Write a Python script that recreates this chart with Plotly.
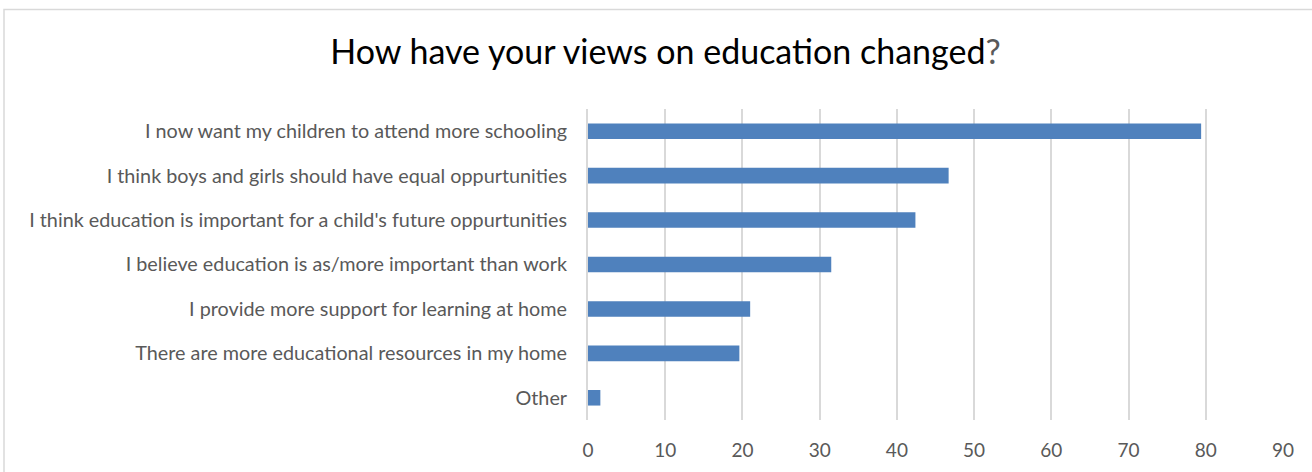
import plotly.graph_objects as go

# Survey responses (percent of respondents), listed top to bottom
categories = [
    "I now want my children to attend more schooling",
    "I think boys and girls should have equal oppurtunities",
    "I think education is important for a child's future oppurtunities",
    "I believe education is as/more important than work",
    "I provide more support for learning at home",
    "There are more educational resources in my home",
    "Other",
]
values = [79.4, 46.7, 42.4, 31.5, 21.0, 19.6, 1.6]
x_ticks = [0, 10, 20, 30, 40, 50, 60, 70, 80, 90]

W, H = 1312, 472
ML, MR, MT, MB = 588, 29, 109, 52
FONT = "Lato"
GRID = "#D9D9D9"
TEXT = "#595959"

fig = go.Figure(
    go.Bar(
        x=values,
        y=categories,
        orientation="h",
        marker=dict(color="#4F81BD", line=dict(width=0)),
        hoverinfo="x+y",
    )
)

# chart-area frame (extends past the right/bottom edge of the canvas)
pw = W - ML - MR
ph = H - MT - MB
fig.add_shape(
    type="rect", xref="paper", yref="paper",
    x0=(4 - ML) / pw, x1=(W + 40 - ML) / pw,
    y0=-(H + 40 - (H - MB)) / ph, y1=1 + (MT - 9.5) / ph,
    line=dict(color=GRID, width=1.5), fillcolor="rgba(0,0,0,0)", layer="below",
)

fig.update_layout(
    width=W, height=H,
    margin=dict(l=ML, r=MR, t=MT, b=MB, pad=0),
    paper_bgcolor="white", plot_bgcolor="white",
    bargap=0.65,
    showlegend=False,
    font=dict(family=FONT, color=TEXT),
    title=dict(
        text="How have your views on education changed<span style='color:#595959'>?</span>",
        x=665.5 / W, xanchor="center",
        y=1 - 52 / H, yanchor="middle",
        font=dict(family=FONT, size=34, color="#000000"),
    ),
    xaxis=dict(
        range=[0, 90],
        tickvals=x_ticks,
        ticktext=[str(v) for v in x_ticks],
        showgrid=True, gridcolor=GRID, gridwidth=2,
        zeroline=False, showline=False,
        ticks="", ticklabelstandoff=17,
        tickfont=dict(family=FONT, size=19, color=TEXT),
        fixedrange=True,
    ),
    yaxis=dict(
        autorange="reversed",
        showgrid=False, zeroline=False,
        showline=True, linecolor=GRID, linewidth=2,
        ticks="", ticklabelstandoff=15,
        tickfont=dict(family=FONT, size=19.8, color=TEXT),
        fixedrange=True,
    ),
)

fig.write_html("out.html")
